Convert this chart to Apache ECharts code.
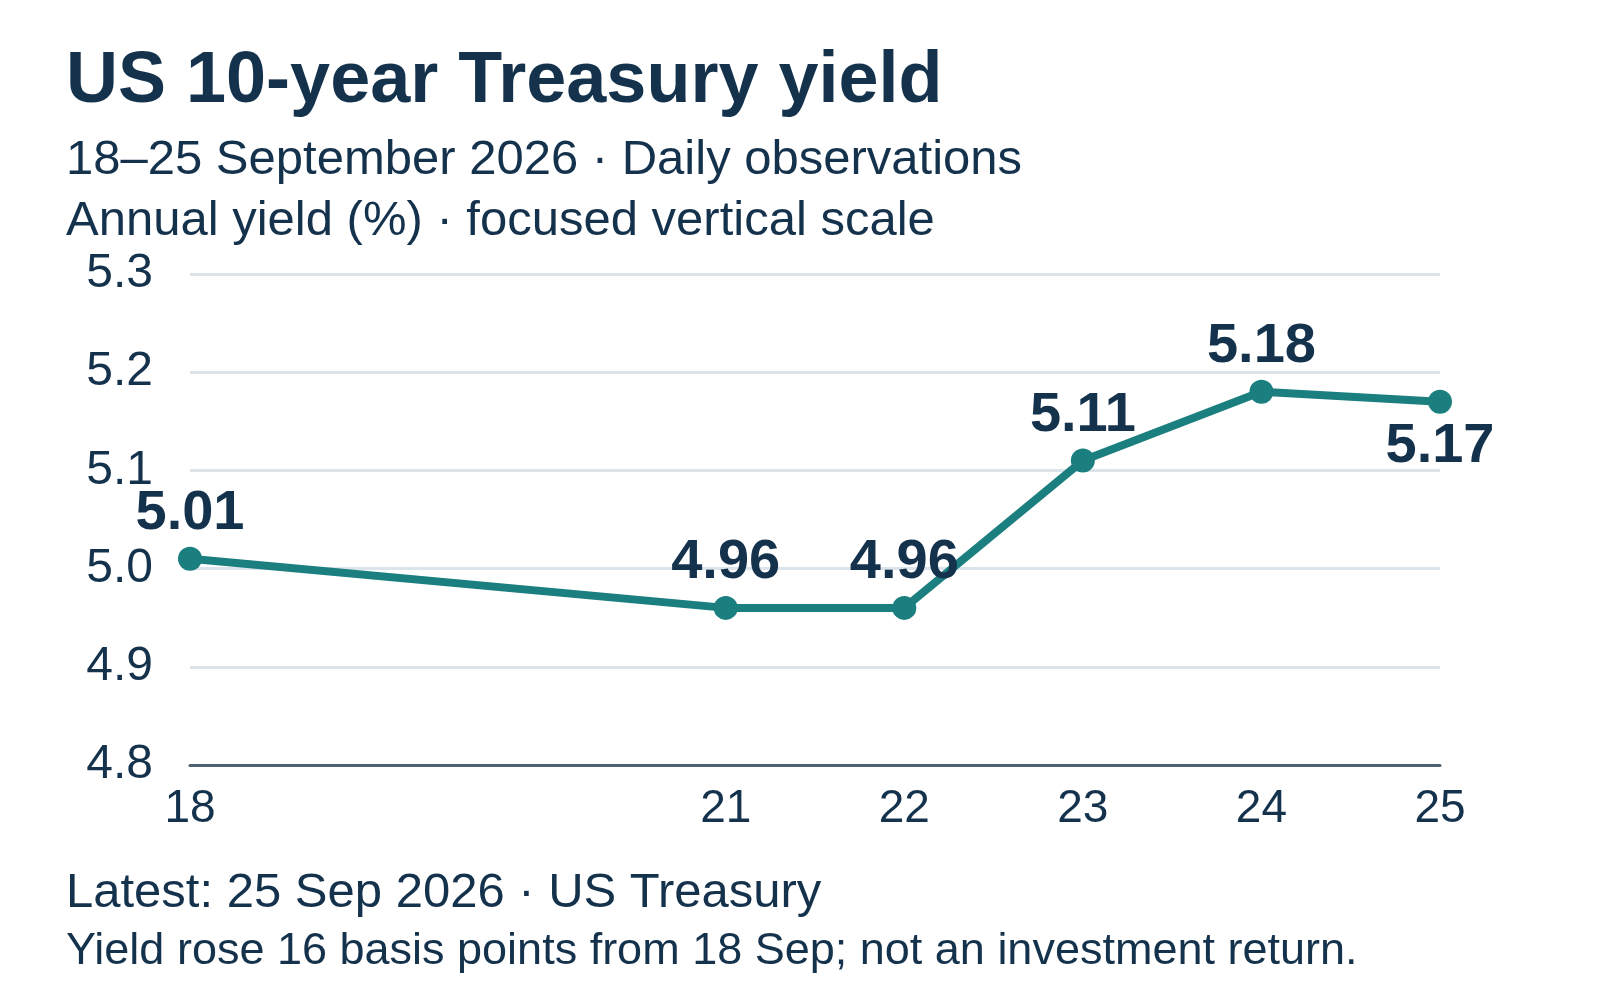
<!DOCTYPE html>
<html>
<head>
<meta charset="utf-8">
<title>US 10-year Treasury yield</title>
<script src="https://cdn.jsdelivr.net/npm/echarts@6/dist/echarts.min.js"></script>
<style>
  html, body { margin: 0; padding: 0; background: #fff; }
  #chart { width: 1600px; height: 1000px; }
</style>
</head>
<body>
<div id="chart"></div>
<script>
// US 10-year Treasury yield, 18-25 Sep 2026
var days = [18, 21, 22, 23, 24, 25];
var yields = [5.01, 4.96, 4.96, 5.11, 5.18, 5.17];
var yTicks = [4.8, 4.9, 5.0, 5.1, 5.2, 5.3];
var labelBelow = [false, false, false, false, false, true];

var ink = '#15324d';
var teal = '#1b7e7f';
var rule = '#dbe3eb';
var axisInk = '#4e6170';
var font = "'Liberation Sans', Arial, Helvetica, sans-serif";

var chart = echarts.init(document.getElementById('chart'));

var points = days.map(function (d, i) {
  return {
    value: [d, yields[i]],
    label: { position: labelBelow[i] ? 'bottom' : 'top' }
  };
});

chart.setOption({
  animation: false,
  textStyle: { fontFamily: font, color: ink },
  graphic: [
    {
      type: 'text', left: 66, top: 46,
      style: { text: 'US 10-year Treasury yield', font: 'bold 72px ' + font, fill: ink }
    },
    {
      type: 'text', left: 66, top: 136,
      style: { text: '18–25 September 2026 · Daily observations', font: '49px ' + font, fill: ink }
    },
    {
      type: 'text', left: 66, top: 197,
      style: { text: 'Annual yield (%) · focused vertical scale', font: '49px ' + font, fill: ink }
    },
    {
      type: 'text', left: 66, top: 869,
      style: { text: 'Latest: 25 Sep 2026 · US Treasury', font: '49px ' + font, fill: ink }
    },
    {
      type: 'text', left: 66, top: 929,
      style: { text: 'Yield rose 16 basis points from 18 Sep; not an investment return.', font: '45px ' + font, fill: ink }
    }
  ],
  grid: { left: 190, right: 160, top: 274, bottom: 235 },
  xAxis: {
    type: 'value',
    min: 18,
    max: 25,
    interval: 1,
    axisLine: { show: true, onZero: false, lineStyle: { color: axisInk, width: 3 } },
    axisTick: { show: false },
    splitLine: { show: false },
    axisLabel: {
      customValues: days,
      margin: 21,
      color: ink,
      fontSize: 46,
      fontFamily: font
    }
  },
  yAxis: {
    type: 'value',
    min: 4.8,
    max: 5.3,
    interval: 0.1,
    axisLine: { show: false },
    axisTick: { show: false },
    splitLine: { lineStyle: { color: rule, width: 3 } },
    axisLabel: {
      customValues: yTicks,
      margin: 37,
      color: ink,
      fontSize: 48,
      fontFamily: font,
      formatter: function (v) { return v.toFixed(1); }
    }
  },
  series: [
    {
      type: 'line',
      data: points,
      symbol: 'circle',
      symbolSize: 24,
      lineStyle: { color: teal, width: 8 },
      itemStyle: { color: teal },
      label: {
        show: true,
        distance: 5,
        color: ink,
        fontSize: 56,
        fontWeight: 'bold',
        fontFamily: font,
        formatter: function (p) { return p.value[1].toFixed(2); }
      }
    }
  ]
});
</script>
</body>
</html>
